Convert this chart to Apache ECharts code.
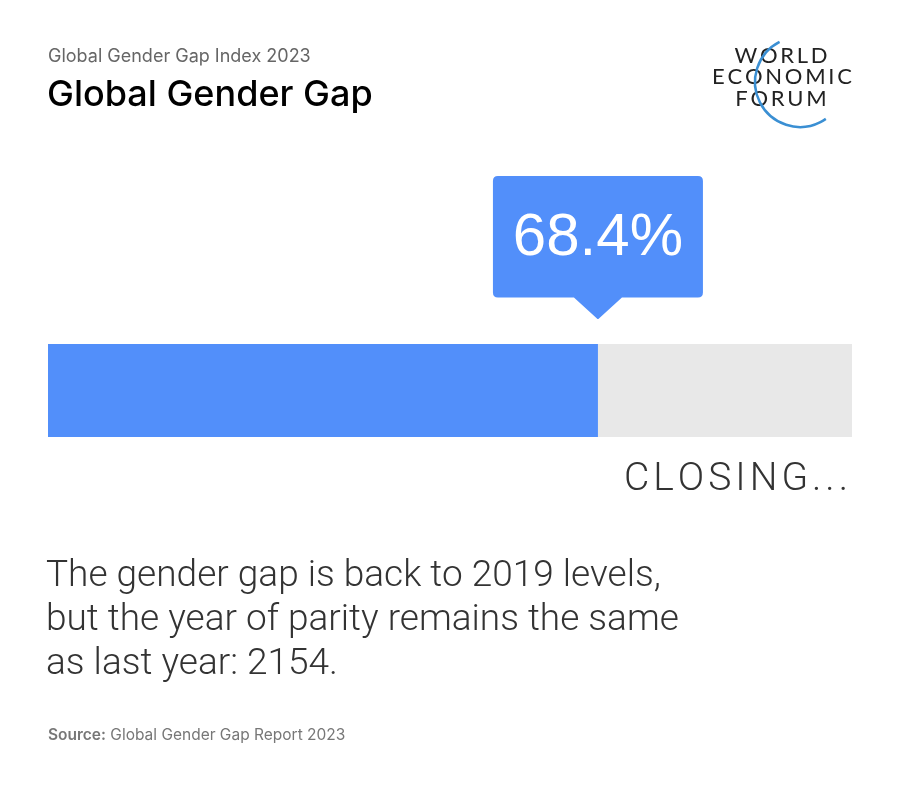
<!DOCTYPE html>
<html>
<head>
<meta charset="utf-8">
<style>
  html, body { margin: 0; padding: 0; background: #fff; }
  #main { width: 900px; height: 787px; }
</style>
<script src="https://cdn.jsdelivr.net/npm/echarts@6/dist/echarts.min.js"></script>
</head>
<body>
<div id="main"></div>
<script>
// data
var categories = ['Global Gender Gap'];
var gapClosed = [68.4];
var scaleMax = 100;

var BLUE = '#528ffa';
var GREY = '#e8e8e8';

var chart = echarts.init(document.getElementById('main'));

// callout box with a pointer underneath (210 x 143 units)
var calloutPath = 'path://M5,0 H205 Q210,0 210,5 V116 Q210,121 205,121 H129 L106,142 Q105,143 104,142 L81,121 H5 Q0,121 0,116 V5 Q0,0 5,0 Z';

var option = {
  backgroundColor: '#fff',
  animation: false,
  title: [{
    text: 'Global Gender Gap Index 2023',
    left: 43, top: 43,
    textStyle: { fontFamily: 'Inter', fontSize: 18, fontWeight: 'normal', color: '#666' }
  }, {
    text: 'Global Gender Gap',
    left: 42, top: 72,
    textStyle: { fontFamily: 'Inter', fontSize: 36, fontWeight: 500, color: '#000' }
  }],
  grid: { left: 48, right: 48, top: 344, height: 93 },
  xAxis: { type: 'value', min: 0, max: scaleMax, show: false },
  yAxis: { type: 'category', data: categories, show: false },
  series: [{
    type: 'bar',
    data: gapClosed,
    barWidth: 93,
    itemStyle: { color: BLUE },
    showBackground: true,
    backgroundStyle: { color: GREY },
    markPoint: {
      data: [{ coord: [gapClosed[0], 0] }],
      symbol: calloutPath,
      symbolSize: [210, 143],
      symbolOffset: [0, -143],
      itemStyle: { color: BLUE },
      label: {
        show: true,
        formatter: function (p) { return p.data.coord[0].toFixed(1) + '%'; },
        offset: [0, -9],
        fontFamily: 'Liberation Sans',
        fontSize: 60,
        color: '#fff'
      }
    }
  }],
  graphic: [
    // logo
    { type: 'arc', shape: { cx: 800, cy: 82, r: 45, startAngle: 243 * Math.PI / 180, endAngle: 55 * Math.PI / 180, clockwise: false },
      style: { stroke: '#3a8fd3', lineWidth: 2.5, fill: null }, z: 10 },
    { type: 'text', x: 781, y: 67, style: { text: 'W\u2009O\u2009R\u2009L\u2009D', font: '22px Lato', fill: '#222', align: 'center', verticalAlign: 'bottom' } },
    { type: 'text', x: 782, y: 88, style: { text: 'E\u2009C\u2009O\u2009N\u2009O\u2009M\u2009I\u2009C', font: '22px Lato', fill: '#222', align: 'center', verticalAlign: 'bottom' } },
    { type: 'text', x: 781, y: 110, style: { text: 'F\u2009O\u2009R\u2009U\u2009M', font: '22px Lato', fill: '#222', align: 'center', verticalAlign: 'bottom' } },
    // status
    { type: 'text', x: 848, y: 500, style: { text: 'C\u200AL\u200AO\u200AS\u200AI\u200AN\u200AG\u200A.\u200A.\u200A.', font: '300 39px Roboto', fill: '#333', align: 'right', verticalAlign: 'bottom' } },
    // note
    { type: 'text', left: 46, top: 555, style: {
        text: 'The gender gap is back to 2019 levels,\nbut the year of parity remains the same\nas last year: 2154.',
        font: '300 37px Roboto', fill: '#333', lineHeight: 44 } },
    // source
    { type: 'text', left: 48, top: 727, style: {
        text: '{b|Source:} Global Gender Gap Report 2023',
        rich: { b: { fontFamily: 'Inter', fontWeight: 600, fontSize: 15.5, fill: '#777' } },
        fontFamily: 'Inter', fontSize: 15.5, fill: '#777' } }
  ]
};

chart.setOption(option);
</script>
</body>
</html>
